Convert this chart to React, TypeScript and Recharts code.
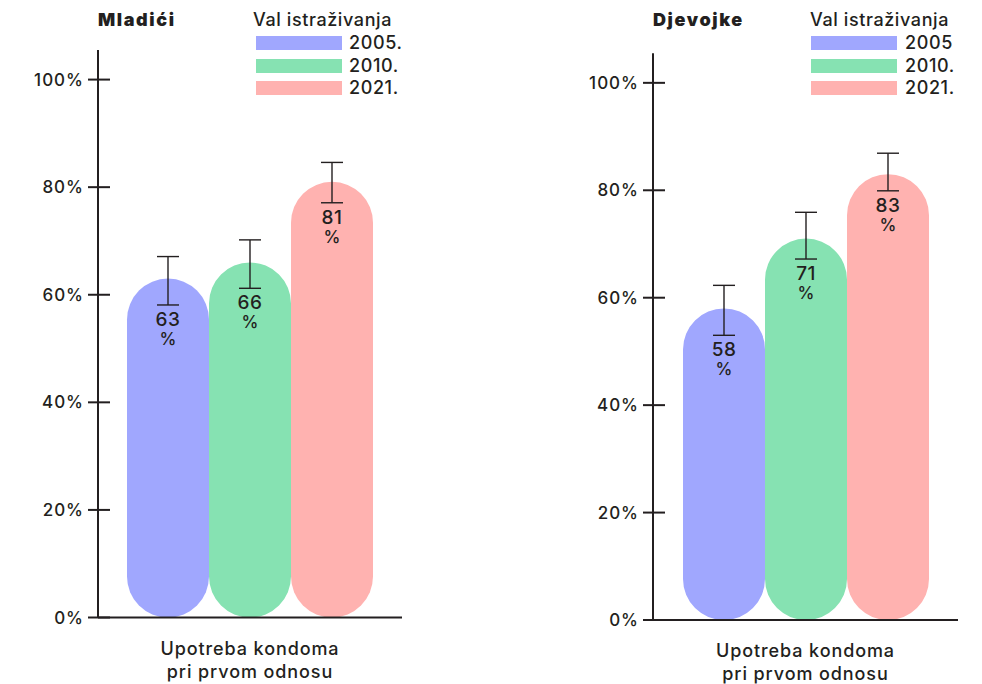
import React from "react";
import { BarChart, Bar, XAxis, YAxis, ErrorBar, LabelList, Legend } from "recharts";

const FONT = "Inter, 'Liberation Sans', sans-serif";
const INK = "#231f20";

// survey waves and their colours
const waves = ["2005", "2010", "2021"];
const waveColors = ["#a0a7fe", "#86e2b2", "#ffb2b0"];
const category = "Upotreba kondoma pri prvom odnosu";
const yTicks = [0, 20, 40, 60, 80, 100];

// Mladići
const boysValues = [63, 66, 81];
const boysErrors = [[4.9, 4.1], [4.8, 4.2], [3.9, 3.6]]; // [below, above]
const boysLegend = ["2005.", "2010.", "2021."];

// Djevojke
const girlsValues = [58, 71, 83];
const girlsErrors = [[5.0, 4.3], [3.8, 4.9], [3.1, 3.9]];
const girlsLegend = ["2005", "2010.", "2021."];

function buildRow(values: number[], errors: number[][]) {
  const row: any = { name: category };
  waves.forEach((w, i) => {
    row[`v${w}`] = values[i];
    row[`e${w}`] = errors[i];
  });
  return [row];
}

function YTick({ x, y, payload }: any) {
  return (
    <g>
      <line x1={x - 10} x2={x + 12} y1={y} y2={y} stroke={INK} strokeWidth={2} />
      <text
        x={x - 14}
        y={y}
        dy="0.36em"
        textAnchor="end"
        fontSize={17}
        fontWeight={500}
        letterSpacing={1}
        fill={INK}
        fontFamily={FONT}
      >
        {payload.value}%
      </text>
    </g>
  );
}

function XTick({ x, y, payload }: any) {
  const words = String(payload.value).split(" ");
  const lines = [words.slice(0, 2).join(" "), words.slice(2).join(" ")];
  return (
    <text
      x={x}
      y={y + 31}
      textAnchor="middle"
      fontSize={18}
      fontWeight={500}
      letterSpacing={0.9}
      fill={INK}
      fontFamily={FONT}
    >
      {lines.map((l, i) => (
        <tspan key={i} x={x} dy={i === 0 ? "0.36em" : 23}>
          {l}
        </tspan>
      ))}
    </text>
  );
}

// value + "%" stacked just under the lower whisker
const makeLabel = (errors: number[][], i: number) => (props: any) => {
  const { x, y, width, height, value } = props;
  const px = height / value;
  const errY = y + errors[i][0] * px;
  const cx = x + width / 2;
  return (
    <text x={cx} y={errY + 14} fontFamily={FONT} fill={INK} textAnchor="middle" fontSize={19} fontWeight={500}>
      <tspan x={cx} dy="0.36em" letterSpacing={0.5}>
        {value}
      </tspan>
      <tspan x={cx} dy={19} fontSize={17}>
        %
      </tspan>
    </text>
  );
};

const makeLegend = (labels: string[], rectLeft: number, textLeft: number) => (props: any) => {
  const payload = props.payload || [];
  return (
    <div style={{ position: "relative", width: 170, height: 90, fontFamily: FONT, color: INK, fontWeight: 500 }}>
      <div style={{ position: "absolute", left: 0, top: 0, fontSize: 18, lineHeight: "22px", letterSpacing: 0.6, whiteSpace: "nowrap" }}>
        Val istraživanja
      </div>
      {labels.map((l, i) => (
        <div key={l + i}>
          <div
            style={{
              position: "absolute",
              left: rectLeft,
              top: 27 + i * 22.5,
              width: 86,
              height: 14,
              background: payload[i] ? payload[i].color : waveColors[i],
            }}
          />
          <div
            style={{
              position: "absolute",
              left: textLeft,
              top: 23 + i * 22.5,
              fontSize: 18,
              lineHeight: "22px",
              letterSpacing: 0.6,
            }}
          >
            {l}
          </div>
        </div>
      ))}
    </div>
  );
};

interface PanelProps {
  title: string;
  values: number[];
  errors: number[][];
  legend: string[];
  left: number;
  margin: { top: number; right: number; bottom: number; left: number };
  axisWidth: number;
  axisHeight: number;
  legendLeft: number;
  rectLeft: number;
  textLeft: number;
}

function Panel({ title, values, errors, legend, left, margin, axisWidth, axisHeight, legendLeft, rectLeft, textLeft }: PanelProps) {
  const data = buildRow(values, errors);
  return (
    <div style={{ position: "absolute", left, top: 0, width: 491, height: 684 }}>
      <div
        style={{
          position: "absolute",
          left: axisWidth,
          top: 9,
          fontFamily: FONT,
          fontWeight: 900,
          fontSize: 18,
          lineHeight: "22px",
          letterSpacing: 1.6,
          color: INK,
          zIndex: 2,
        }}
      >
        {title}
      </div>
      <BarChart width={491} height={684} data={data} margin={margin} barSize={82} barGap={0}>
        <XAxis
          dataKey="name"
          height={axisHeight}
          tickSize={0}
          tickMargin={0}
          tick={<XTick />}
          axisLine={{ stroke: INK, strokeWidth: 2 }}
          tickLine={false}
          interval={0}
        />
        <YAxis
          width={axisWidth}
          domain={[0, 105.5]}
          ticks={yTicks}
          tickSize={0}
          tickMargin={0}
          tick={<YTick />}
          axisLine={{ stroke: INK, strokeWidth: 2 }}
          tickLine={false}
          interval={0}
        />
        <Legend
          layout="vertical"
          align="center"
          verticalAlign="middle"
          wrapperStyle={{ left: legendLeft, top: 9, width: 170 }}
          content={makeLegend(legend, rectLeft, textLeft)}
        />
        {waves.map((w, i) => (
          <Bar
            key={w}
            dataKey={`v${w}`}
            name={legend[i]}
            fill={waveColors[i]}
            radius={[41, 41, 41, 41]}
            isAnimationActive={false}
          >
            <ErrorBar dataKey={`e${w}`} width={11} stroke={INK} strokeWidth={1.4} isAnimationActive={false} />
            <LabelList dataKey={`v${w}`} content={makeLabel(errors, i)} />
          </Bar>
        ))}
      </BarChart>
    </div>
  );
}

export default function App() {
  return (
    <div style={{ position: "absolute", left: 0, top: 0, width: 982, height: 684, background: "#fff" }}>
      <Panel
        title="Mladići"
        values={boysValues}
        errors={boysErrors}
        legend={boysLegend}
        left={0}
        margin={{ top: 50, right: 89, bottom: 0, left: 0 }}
        axisWidth={98}
        axisHeight={66.5}
        legendLeft={253}
        rectLeft={3}
        textLeft={96}
      />
      <Panel
        title="Djevojke"
        values={girlsValues}
        errors={girlsErrors}
        legend={girlsLegend}
        left={491}
        margin={{ top: 53.3, right: 24, bottom: 0, left: 0 }}
        axisWidth={162}
        axisHeight={64}
        legendLeft={319}
        rectLeft={1}
        textLeft={95}
      />
    </div>
  );
}
